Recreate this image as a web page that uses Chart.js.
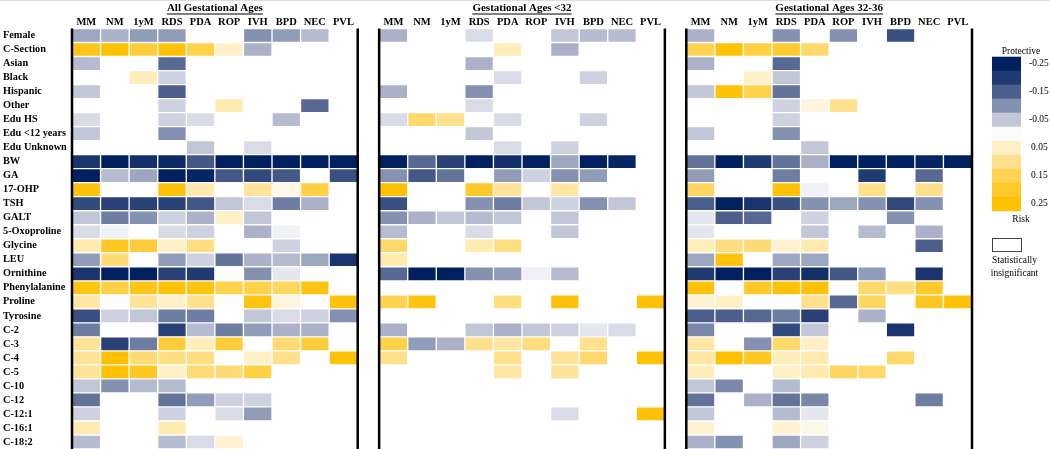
<!DOCTYPE html>
<html>
<head>
<meta charset="utf-8">
<script src="https://cdn.jsdelivr.net/npm/chart.js@4.4.0/dist/chart.umd.min.js"></script>
<style>
  html, body { margin: 0; padding: 0; background: #fff; }
  canvas { display: block; }
</style>
</head>
<body>
<canvas id="heatmap" width="1050" height="449"></canvas>
<script>
// Row / column labels
const rowLabels = ['Female', 'C-Section', 'Asian', 'Black', 'Hispanic', 'Other', 'Edu HS', 'Edu <12 years',
  'Edu Unknown', 'BW', 'GA', '17-OHP', 'TSH', 'GALT', '5-Oxoproline', 'Glycine', 'LEU', 'Ornithine',
  'Phenylalanine', 'Proline', 'Tyrosine', 'C-2', 'C-3', 'C-4', 'C-5', 'C-10', 'C-12', 'C-12:1', 'C-16:1', 'C-18:2'];
const outcomeLabels = ['MM', 'NM', '1yM', 'RDS', 'PDA', 'ROP', 'IVH', 'BPD', 'NEC', 'PVL'];
const panelTitles = ['All Gestational Ages', 'Gestational Ages <32', 'Gestational Ages 32-36'];

// Colour scale (legend)
const colorStops = [-0.25, -0.20, -0.15, -0.10, -0.05, 0, 0.05, 0.10, 0.15, 0.20, 0.25];
const stopColors = ['#002060', '#203a72', '#4c5f8c', '#8591b0', '#c2c7d8', '#fcfcfe',
  '#fff0c8', '#ffe08c', '#ffd455', '#ffc929', '#ffc000'];
const legendTicks = ['-0.25', '-0.15', '-0.05', '0.05', '0.15', '0.25'];

// Coefficients, null = not statistically significant
const allAges = [
  [-0.08, -0.07, -0.09, -0.09, null, null, -0.10, -0.09, -0.06, null],
  [0.22, 0.25, 0.18, 0.24, 0.16, 0.05, -0.07, null, null, null],
  [-0.06, null, null, -0.14, null, null, null, null, null, null],
  [null, null, 0.06, -0.04, null, null, null, null, null, null],
  [-0.05, null, null, -0.15, null, null, null, null, null, null],
  [null, null, null, -0.04, null, 0.07, null, null, -0.14, null],
  [-0.03, null, null, -0.04, -0.03, null, null, -0.06, null, null],
  [-0.05, null, null, -0.10, null, null, null, null, null, null],
  [null, null, null, null, -0.05, null, -0.03, null, null, null],
  [-0.21, -0.25, -0.22, -0.23, -0.16, -0.25, -0.25, -0.25, -0.25, -0.25],
  [-0.25, -0.06, -0.08, -0.25, -0.24, -0.16, -0.18, -0.16, null, -0.17],
  [0.24, null, null, 0.24, 0.07, null, 0.09, 0.02, 0.17, null],
  [-0.18, -0.19, -0.19, -0.19, -0.16, -0.05, -0.03, -0.12, -0.07, null],
  [-0.05, -0.12, -0.10, -0.04, -0.07, 0.05, -0.05, null, null, null],
  [-0.03, -0.01, null, -0.03, -0.04, null, -0.07, -0.01, null, null],
  [0.07, 0.21, 0.18, 0.05, 0.11, null, null, -0.04, null, null],
  [-0.09, 0.12, null, -0.09, -0.04, -0.13, -0.07, -0.06, -0.08, -0.21],
  [-0.21, -0.25, -0.25, -0.19, -0.20, null, -0.10, -0.02, null, null],
  [0.23, 0.17, 0.22, 0.24, 0.23, 0.16, 0.16, 0.14, 0.23, null],
  [0.08, null, 0.09, 0.05, 0.10, null, 0.23, 0.03, null, 0.24],
  [-0.17, -0.04, -0.05, -0.12, -0.12, null, -0.05, -0.03, -0.04, -0.10],
  [-0.12, null, null, -0.19, -0.06, -0.12, -0.09, -0.07, -0.07, null],
  [0.09, -0.19, -0.12, 0.18, 0.06, 0.18, null, 0.12, 0.18, null],
  [0.09, 0.25, 0.12, 0.11, 0.11, null, 0.05, 0.10, null, 0.24],
  [0.09, 0.25, 0.21, 0.05, 0.12, 0.12, 0.17, null, null, null],
  [-0.05, -0.10, -0.06, -0.06, null, null, null, null, null, null],
  [-0.13, null, null, -0.13, -0.09, -0.04, -0.04, null, null, null],
  [-0.04, null, null, -0.04, null, -0.03, -0.09, null, null, null],
  [0.07, null, null, 0.07, null, null, null, null, null, null],
  [-0.06, null, null, -0.06, -0.03, 0.04, null, null, null, null]
];

const under32 = [
  [-0.07, null, null, -0.03, null, null, -0.05, -0.06, -0.06, null],
  [null, null, null, null, 0.06, null, -0.07, null, null, null],
  [null, null, null, -0.07, null, null, null, null, null, null],
  [null, null, null, null, -0.03, null, null, -0.04, null, null],
  [-0.07, null, null, -0.10, null, null, null, null, null, null],
  [null, null, null, -0.03, null, null, null, null, null, null],
  [-0.03, 0.13, 0.10, null, -0.03, null, null, -0.04, null, null],
  [null, null, null, -0.05, null, null, null, null, null, null],
  [null, null, null, null, -0.03, null, -0.04, null, null, null],
  [-0.25, -0.14, -0.19, -0.25, -0.22, -0.25, -0.08, -0.25, -0.24, null],
  [-0.10, -0.16, -0.13, null, -0.09, -0.04, -0.10, -0.09, null, null],
  [0.25, null, null, 0.20, 0.09, null, 0.08, null, null, null],
  [-0.17, null, null, -0.10, -0.12, -0.05, -0.04, -0.10, -0.05, null],
  [-0.10, -0.07, -0.05, -0.06, -0.05, null, -0.05, null, null, null],
  [-0.06, null, null, -0.03, null, null, -0.05, null, null, null],
  [0.13, null, null, 0.07, 0.11, null, null, null, null, null],
  [0.07, null, null, null, null, null, null, null, null, null],
  [-0.14, -0.25, -0.25, -0.10, -0.09, -0.01, -0.06, null, null, null],
  [null, null, null, null, null, null, null, null, null, null],
  [0.15, 0.23, null, null, 0.11, null, 0.24, null, null, 0.24],
  [null, null, null, null, null, null, null, null, null, null],
  [-0.07, null, null, -0.05, -0.07, -0.05, -0.04, -0.02, -0.03, null],
  [0.16, -0.09, -0.07, 0.10, 0.08, 0.11, null, 0.10, null, null],
  [0.10, null, null, null, 0.10, null, 0.09, 0.13, null, 0.24],
  [null, null, null, null, 0.08, null, 0.09, null, null, null],
  [null, null, null, null, null, null, null, null, null, null],
  [null, null, null, null, null, null, null, null, null, null],
  [null, null, null, null, null, null, -0.03, null, null, 0.24],
  [null, null, null, null, null, null, null, null, null, null],
  [null, null, null, null, null, null, null, null, null, null]
];

const ages32to36 = [
  [-0.07, null, null, -0.10, null, -0.10, null, -0.17, null, null],
  [0.15, 0.24, 0.17, 0.19, 0.13, null, null, null, null, null],
  [-0.07, null, null, -0.14, null, null, null, null, null, null],
  [null, null, 0.05, -0.05, null, null, null, null, null, null],
  [-0.05, 0.24, 0.16, -0.13, null, null, null, null, null, null],
  [null, null, null, -0.04, 0.03, 0.10, null, null, null, null],
  [null, null, null, -0.04, null, null, null, null, null, null],
  [-0.05, null, null, -0.10, null, null, null, null, null, null],
  [null, null, null, null, -0.05, null, null, null, null, null],
  [-0.13, -0.25, -0.20, -0.13, -0.07, -0.25, -0.25, -0.25, -0.24, -0.25],
  [-0.09, null, null, -0.12, null, null, -0.20, null, -0.14, null],
  [0.14, null, null, 0.24, -0.01, null, 0.10, null, 0.10, null],
  [-0.15, -0.25, -0.21, -0.17, -0.10, -0.08, -0.10, -0.18, -0.10, null],
  [-0.02, -0.15, -0.14, null, -0.04, null, null, -0.10, null, null],
  [-0.02, null, null, null, -0.05, null, -0.06, null, -0.07, null],
  [0.06, 0.11, 0.12, 0.04, 0.07, null, null, null, -0.15, null],
  [-0.08, 0.24, null, -0.08, -0.08, null, null, null, null, null],
  [-0.20, -0.25, -0.25, -0.19, -0.22, -0.16, -0.09, null, -0.21, null],
  [0.24, null, 0.20, 0.24, 0.24, null, 0.13, 0.11, 0.20, null],
  [0.04, 0.05, null, null, 0.10, -0.14, 0.14, null, 0.21, 0.24],
  [-0.15, -0.15, -0.14, -0.12, -0.19, null, -0.07, null, null, null],
  [-0.11, null, null, -0.18, -0.05, null, null, -0.21, null, null],
  [0.08, null, -0.10, 0.13, 0.05, null, null, null, null, null],
  [0.08, 0.25, 0.21, 0.06, 0.07, null, null, 0.13, null, null],
  [0.06, null, null, 0.05, 0.07, 0.14, 0.13, null, null, null],
  [-0.05, -0.11, null, -0.06, null, null, null, null, null, null],
  [-0.13, null, -0.07, -0.13, -0.11, null, null, null, -0.12, null],
  [-0.05, null, null, -0.06, -0.02, null, null, null, null, null],
  [0.04, null, null, 0.04, 0.02, null, null, null, null, null],
  [-0.07, -0.10, null, -0.08, -0.04, null, null, null, null, null]
];

const panels = [allAges, under32, ages32to36];
const panelStart = [0, 10.75, 21.5];
const serif = "'Liberation Serif', 'DejaVu Serif', serif";

// Map a coefficient onto the legend colour ramp
function hexToRgb(hex) {
  const n = parseInt(hex.slice(1), 16);
  return [(n >> 16) & 255, (n >> 8) & 255, n & 255];
}
function cellColor(v) {
  if (v <= colorStops[0]) return stopColors[0];
  if (v >= colorStops[colorStops.length - 1]) return stopColors[stopColors.length - 1];
  for (let i = 0; i < colorStops.length - 1; i++) {
    if (v >= colorStops[i] && v <= colorStops[i + 1]) {
      const t = (v - colorStops[i]) / (colorStops[i + 1] - colorStops[i]);
      const a = hexToRgb(stopColors[i]);
      const b = hexToRgb(stopColors[i + 1]);
      const c = a.map((x, k) => Math.round(x + (b[k] - x) * t));
      return `rgb(${c[0]}, ${c[1]}, ${c[2]})`;
    }
  }
}

// One floating-bar dataset per panel column
const datasets = [];
panels.forEach((panel, p) => {
  outcomeLabels.forEach((name, c) => {
    const x0 = panelStart[p] + c;
    datasets.push({
      label: `${panelTitles[p]} - ${name}`,
      data: panel.map(row => (row[c] === null ? null : [x0, x0 + 1])),
      backgroundColor: panel.map(row => (row[c] === null ? 'rgba(0,0,0,0)' : cellColor(row[c]))),
      borderColor: 'rgba(255,255,255,0.55)',
      borderWidth: 1,
      borderSkipped: false,
      grouped: false,
      barPercentage: 1,
      categoryPercentage: 1
    });
  });
});

// Column header tick positions (centre of every cell column)
const columnCenters = [];
panelStart.forEach(start => outcomeLabels.forEach((_, c) => columnCenters.push(start + c + 0.5)));

// Panel borders, titles and the colour legend
const decorPlugin = {
  id: 'decor',
  afterDraw(chart) {
    const { ctx, chartArea, scales: { x } } = chart;
    ctx.save();

    // faint frame line at the top edge
    ctx.fillStyle = '#dcdcdc';
    ctx.fillRect(0, 0, chart.width, 1);

    // panel borders
    ctx.strokeStyle = '#000';
    ctx.lineWidth = 2.5;
    panelStart.forEach(start => {
      [start, start + 10].forEach(v => {
        const px = x.getPixelForValue(v);
        ctx.beginPath();
        ctx.moveTo(px, chartArea.top);
        ctx.lineTo(px, chartArea.bottom);
        ctx.stroke();
      });
    });

    // panel titles, underlined
    ctx.fillStyle = '#000';
    ctx.font = `bold 11px ${serif}`;
    ctx.textAlign = 'center';
    ctx.textBaseline = 'middle';
    panelTitles.forEach((title, p) => {
      const cx = x.getPixelForValue(panelStart[p] + 5);
      ctx.fillText(title, cx, 8);
      const w = ctx.measureText(title).width;
      ctx.fillRect(cx - w / 2, 13.5, w, 1);
    });

    // colour legend
    const lx = 992, lw = 29, top = 56.7, bh = 14;
    ctx.font = `9.5px ${serif}`;
    ctx.fillText('Protective', 1021, 51);
    stopColors.forEach((col, i) => {
      ctx.fillStyle = col;
      ctx.fillRect(lx, top + i * bh, lw, bh + 0.5);
    });
    ctx.fillStyle = '#000';
    ctx.textAlign = 'left';
    legendTicks.forEach((t, i) => {
      ctx.fillText(t, t.startsWith('-') ? 1029 : 1031, top + (i * 2 + 0.5) * bh);
    });
    ctx.textAlign = 'center';
    ctx.fillText('Risk', 1021, 219);

    ctx.strokeStyle = '#444';
    ctx.lineWidth = 1;
    ctx.strokeRect(lx + 0.5, 238.5, lw, 13);
    ctx.fillText('Statistically', 1014.5, 260);
    ctx.fillText('insignificant', 1014.5, 273);

    ctx.restore();
  }
};

new Chart(document.getElementById('heatmap'), {
  type: 'bar',
  data: { labels: rowLabels, datasets },
  options: {
    indexAxis: 'y',
    responsive: false,
    animation: false,
    layout: { padding: { left: 3, right: 78, top: 0, bottom: 0 } },
    plugins: {
      legend: { display: false },
      tooltip: {
        callbacks: {
          label: ctx => {
            const p = Math.floor(ctx.datasetIndex / 10);
            const c = ctx.datasetIndex % 10;
            return `${outcomeLabels[c]}: ${panels[p][ctx.dataIndex][c]}`;
          }
        }
      }
    },
    scales: {
      x: {
        type: 'linear',
        position: 'top',
        min: 0,
        max: 31.5,
        grid: { display: false, drawTicks: false },
        border: { display: false },
        afterBuildTicks: scale => {
          scale.ticks = columnCenters.map(v => ({ value: v }));
        },
        afterFit: scale => {
          scale.height = 28.5;
          scale.paddingLeft = 0;
          scale.paddingRight = 0;
        },
        ticks: {
          autoSkip: false,
          maxRotation: 0,
          padding: 0,
          color: '#000',
          font: { family: serif, size: 10.5, weight: 'bold' },
          callback: (value, index) => outcomeLabels[index % 10]
        }
      },
      y: {
        type: 'category',
        grid: { display: false, drawTicks: false },
        border: { display: false },
        afterFit: scale => {
          scale.width = 69;
          scale.paddingTop = 0;
          scale.paddingBottom = 0;
        },
        ticks: {
          crossAlign: 'far',
          autoSkip: false,
          padding: 0,
          color: '#000',
          font: { family: serif, size: 10.3, weight: 'bold' }
        }
      }
    }
  },
  plugins: [decorPlugin]
});
</script>
</body>
</html>
